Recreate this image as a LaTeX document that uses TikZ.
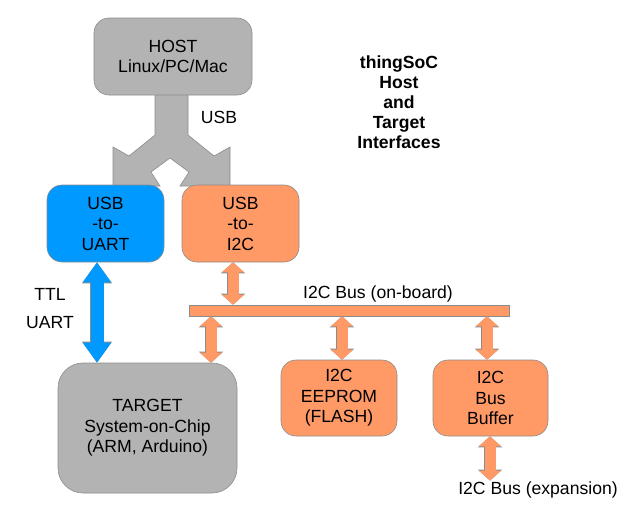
\documentclass[tikz,border=0pt]{standalone}
\usepackage{fontspec}
\setmainfont{Liberation Sans}
\usetikzlibrary{arrows.meta}
\definecolor{hostgray}{HTML}{B3B3B3}
\definecolor{uartblue}{HTML}{0099FF}
\definecolor{i2corange}{HTML}{FF9966}
\definecolor{rimgray}{HTML}{8C8C8C}

\begin{document}
\begin{tikzpicture}[x=1pt,y=-1pt] % координаты в пикселях
\tikzstyle{box} = [draw=rimgray, line width=0.6pt, rounded corners=15pt, align=center, inner sep=0pt, font=\fontsize{17.6}{20.5}\selectfont] % блок
\tikzstyle{lbl} = [inner sep=1pt, font=\fontsize{17.6}{20.5}\selectfont] % подпись
\tikzstyle{i2carrow} = [draw=i2corange, line width=11pt, {Triangle[width=22pt,length=10pt]}-{Triangle[width=22pt,length=10pt]},
  preaction={draw=rimgray, line width=12.2pt, {Triangle[width=23.6pt,length=11pt]}-{Triangle[width=23.6pt,length=11pt]}}]
\tikzstyle{ttlarrow} = [draw=uartblue, line width=13pt, {Triangle[width=27pt,length=20pt]}-{Triangle[width=27pt,length=20pt]},
  preaction={draw=rimgray, line width=14.2pt, {Triangle[width=28.6pt,length=21pt]}-{Triangle[width=28.6pt,length=21pt]}}]

\useasboundingbox (0,0) rectangle (640,514);

% разветвлённая стрелка USB
\draw[fill=hostgray, draw=rimgray, line width=0.6pt] (155,90) -- (155,135) -- (129,156) -- (113,147) -- (113,186) -- (160,186)
  -- (151,172) -- (170,158) -- (189,172) -- (180,186) -- (230,186) -- (230,147) -- (214,156) -- (188,135) -- (188,90) -- cycle;

\node[box, fill=hostgray, minimum width=158pt, minimum height=77pt] (host) at (173,56.5) {HOST\\Linux/PC/Mac};
\node[box, fill=uartblue, minimum width=117pt, minimum height=77pt] (uart) at (105.5,223.5) {USB\\-to-\\UART};
\node[box, fill=i2corange, minimum width=117pt, minimum height=77pt] (usbi2c) at (240.5,223.5) {USB\\-to-\\I2C};
\node[box, fill=hostgray, rounded corners=25pt, minimum width=179pt, minimum height=130pt] (target) at (147.5,428) {TARGET\\System-on-Chip\\(ARM, Arduino)};
\node[box, fill=i2corange, minimum width=116pt, minimum height=76pt] (eeprom) at (339,398) {I2C\\EEPROM\\(FLASH)};
\node[box, fill=i2corange, minimum width=115pt, minimum height=76pt] (buffer) at (490.5,398) {I2C\\Bus\\Buffer};
\node[draw=rimgray, line width=0.6pt, fill=i2corange, inner sep=0pt, minimum width=320pt, minimum height=11pt] (bus) at (349,310.5) {};

\node[lbl] (usb) at (219,117) {USB};
\node[lbl] (ttl) at (50,294) {TTL};
\node[lbl] (uartlbl) at (50,323) {UART};
\node[lbl] (buslbl) at (378,294) {I2C Bus (on-board)};
\node[lbl] (explbl) at (538,490) {I2C Bus (expansion)};
\node[align=center, inner sep=0pt, font=\fontsize{17.6}{20}\selectfont\bfseries] (title) at (399,102) {thingSoC\\Host\\and\\Target\\Interfaces};

\coordinate (t1) at ([xshift=-8.5pt]uart.south);
\coordinate (a1) at ([xshift=-7.5pt]usbi2c.south);
\coordinate (a2) at ([xshift=63.5pt]target.north);
\coordinate (a3) at ([xshift=3pt]eeprom.north);
\coordinate (a4) at ([xshift=-3.5pt]buffer.north);
\coordinate (a5) at ([xshift=-0.5pt]buffer.south);

\draw[ttlarrow] (t1) -- (t1 |- target.north);
\draw[i2carrow] (a1) -- (a1 |- bus.north);
\draw[i2carrow] (a2 |- bus.south) -- (a2);
\draw[i2carrow] (a3 |- bus.south) -- (a3);
\draw[i2carrow] (a4 |- bus.south) -- (a4);
\draw[i2carrow] (a5) -- (a5 |- explbl.north);
\end{tikzpicture}
\end{document}
